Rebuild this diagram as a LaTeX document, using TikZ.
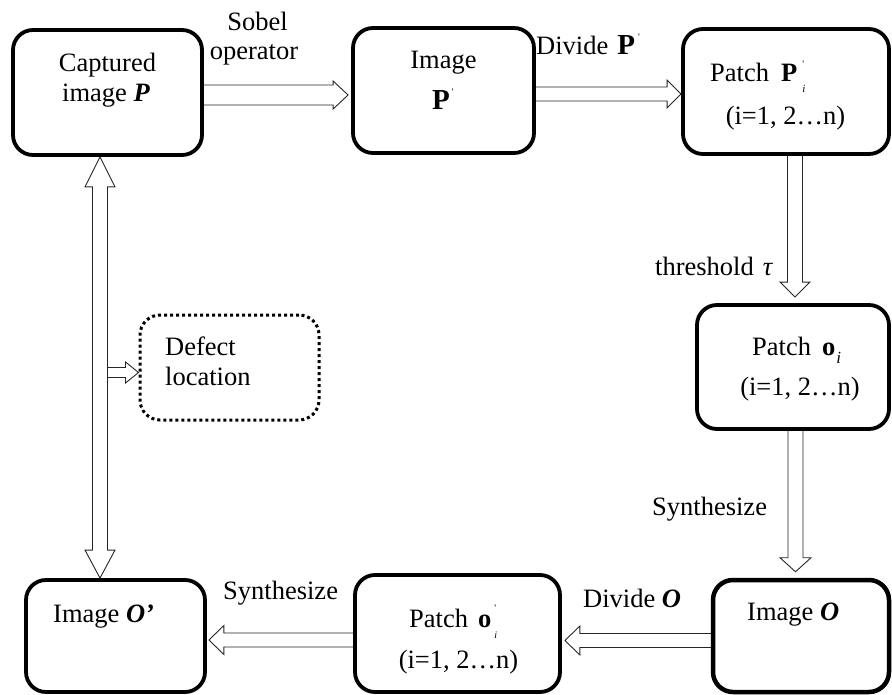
\documentclass[tikz,border=0pt]{standalone}
\usepackage{fontspec}
\setmainfont{Liberation Serif}
\usetikzlibrary{calc}
\newcommand\blockarrow[5]{%
  \path ($(#2)!#5!(#1)$) coordinate (bah);
  \draw[arrline] ($(#1)!#3!90:(#2)$) -- ($(bah)!#3!-90:(#1)$) -- ($(bah)!#4!-90:(#1)$) -- (#2) -- ($(bah)!#4!90:(#1)$) -- ($(bah)!#3!90:(#1)$) -- ($(#1)!#3!-90:(#2)$);
}
\newcommand\tick[1]{\rlap{\raisebox{#1}{\fontsize{10}{10}\selectfont\mdseries\upshape\textquotesingle}}}
\newcommand\subi[3]{\raisebox{-#1}{\fontsize{#2}{#2}\selectfont\mdseries\itshape #3}}
\tikzset{
  box/.style={draw, line width=3.8pt, rounded corners=20pt, inner sep=0pt},
  dotbox/.style={draw, line width=3pt, dash pattern=on 3pt off 3pt, rounded corners=20pt, inner sep=0pt},
  arrline/.style={draw=black!85, line width=0.9pt, line join=miter},
  txt/.style={anchor=base west, inner sep=0pt, font=\fontsize{26.5}{30}\selectfont},
  txtc/.style={anchor=base, inner sep=0pt, font=\fontsize{26.5}{30}\selectfont},
}
\begin{document}
\begin{tikzpicture}[x=1pt,y=-1pt]
\useasboundingbox (0,0) rectangle (892,695);
% boxes
\node[box, minimum width=189pt, minimum height=125pt] (cap)   at (107.5,92.5) {};
\node[box, minimum width=181pt, minimum height=125pt] (img)   at (443.5,90.5) {};
\node[box, minimum width=206pt, minimum height=125pt] (patP)  at (786,91.5) {};
\node[box, minimum width=192pt, minimum height=124pt] (patO)  at (793,367) {};
\node[box, line width=4.5pt, minimum width=176pt, minimum height=112pt] (imO) at (801,636) {};
\node[box, minimum width=205pt, minimum height=117pt] (patO2) at (457.5,633.5) {};
\node[box, minimum width=179pt, minimum height=112pt] (imO2)  at (115.5,636) {};
\node[dotbox, minimum width=179pt, minimum height=105pt] (defect) at (229.5,367.5) {};
% texts in boxes
\node[txtc] (t1a) at (107.5,72) {Captured};
\node[txtc] (t1b) at (106,102) {image \textbf{\textit{P}}};
\node[txtc] (t2a) at (443.5,69) {Image};
\node[txt]  (t2b) at (432,110) {{\fontsize{29}{29}\selectfont\textbf{P}}\hspace{2pt}\tick{14pt}};
\node[txt]  (t3a) at (710,82) {Patch\hspace{12pt}\textbf{P}\hspace{5pt}\tick{14pt}\subi{11pt}{11}{i}};
\node[txtc] (t3b) at (785.5,125) {(i=1, 2…n)};
\node[txt]  (t4a) at (752,355) {Patch\hspace{11pt}\textbf{o}\hspace{1pt}\subi{8pt}{17}{i}};
\node[txtc] (t4b) at (800,395) {(i=1, 2…n)};
\node[txt]  (t5)  at (747,620) {Image \textbf{\textit{O}}};
\node[txt]  (t6a) at (409,627) {Patch\hspace{10pt}\textbf{o}\hspace{3pt}\tick{16pt}\subi{11pt}{10}{i}};
\node[txtc] (t6b) at (458.5,668) {(i=1, 2…n)};
\node[txt]  (t7)  at (53,622) {Image \textbf{\textit{O’}}};
\node[txt]  (t8a) at (165,355) {Defect};
\node[txt]  (t8b) at (165,385) {location};
% arrow labels
\node[txtc] (l1a) at (257.5,31) {Sobel};
\node[txtc] (l1b) at (254,60) {operator};
\node[txt]  (l2)  at (536,55) {Divide\hspace{9pt}{\fontsize{29}{29}\selectfont\textbf{P}}\hspace{3pt}\tick{14pt}};
\node[txt]  (l3)  at (655,276) {threshold\hspace{9pt}\textit{τ}};
\node[txt]  (l4)  at (652,515) {Synthesize};
\node[txt]  (l5)  at (583,607) {Divide \textbf{\textit{O}}};
\node[txt]  (l6)  at (223,599) {Synthesize};
% arrows
\coordinate (a1s) at (cap.east |- 0,95);
\coordinate (a1e) at ($(img.west |- 0,95)+(-3,0)$);
\blockarrow{a1s}{a1e}{10pt}{14pt}{15pt}
\coordinate (a2s) at (img.east |- 0,94);
\coordinate (a2e) at (patP.west |- 0,94);
\blockarrow{a2s}{a2e}{7pt}{14pt}{14pt}
\coordinate (a3s) at (patP.south -| 795,0);
\coordinate (a3e) at ($(patO.north -| 795,0)+(0,-6)$);
\blockarrow{a3s}{a3e}{7.5pt}{15pt}{15pt}
\coordinate (a4s) at (patO.south -| 795.5,0);
\coordinate (a4e) at ($(imO.north -| 795.5,0)+(0,-6)$);
\blockarrow{a4s}{a4e}{7.5pt}{15.5pt}{14pt}
\coordinate (a5s) at (imO.west |- 0,640.5);
\coordinate (a5e) at ($(patO2.east |- 0,640.5)+(3,0)$);
\blockarrow{a5s}{a5e}{7pt}{14.5pt}{15pt}
\coordinate (a6s) at (patO2.west |- 0,640);
\coordinate (a6e) at ($(imO2.east |- 0,640)+(2,0)$);
\blockarrow{a6s}{a6e}{7pt}{14.5pt}{15pt}
% double arrow
\coordinate (dt) at (cap.south -| 100,0);
\coordinate (db) at (imO2.north -| 100,0);
\draw[arrline] (dt) -- ($(dt)+(15,30)$) -- ($(dt)+(7.5,30)$) -- ($(db)+(7.5,-28)$) -- ($(db)+(15,-28)$) -- (db)
  -- ($(db)+(-15,-28)$) -- ($(db)+(-7.5,-28)$) -- ($(dt)+(-7.5,30)$) -- ($(dt)+(-15,30)$) -- cycle;
% defect arrow
\coordinate (ds) at (107.5,372.5);
\coordinate (de) at (defect.west |- ds);
\blockarrow{ds}{de}{5pt}{10.5pt}{13pt}
\end{tikzpicture}
\end{document}
